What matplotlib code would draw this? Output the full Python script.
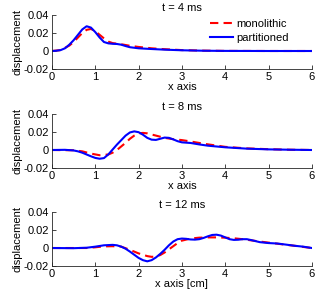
import matplotlib
matplotlib.use('Agg')
import matplotlib.pyplot as plt

plt.rcParams['font.family'] = ['Liberation Sans', 'DejaVu Sans']
plt.rcParams['font.size'] = 8

# t = 4 ms
x1_part = [0, 0.1, 0.2, 0.3, 0.4, 0.5, 0.6, 0.7, 0.8, 0.9, 1.0, 1.1, 1.2, 1.3, 1.4, 1.5, 1.6, 1.7, 1.8, 2.0, 2.3, 2.6, 3.0, 3.5, 4.0, 5.0, 6.0]
y1_part = [0, 0.0003, 0.001, 0.003, 0.007, 0.012, 0.018, 0.024, 0.0275, 0.026, 0.021, 0.015, 0.010, 0.0085, 0.008, 0.0078, 0.007, 0.0055, 0.0042, 0.003, 0.0022, 0.0015, 0.0008, 0.0003, 0.0001, 0, 0]
x1_mono = [0, 0.2, 0.4, 0.5, 0.6, 0.7, 0.8, 0.9, 1.0, 1.1, 1.2, 1.3, 1.4, 1.6, 1.8, 2.0, 2.3, 2.6, 3.0, 3.5, 4.0, 5.0, 6.0]
y1_mono = [0, 0.001, 0.006, 0.010, 0.015, 0.020, 0.0235, 0.0245, 0.022, 0.018, 0.014, 0.0105, 0.0088, 0.0075, 0.0058, 0.0045, 0.003, 0.002, 0.001, 0.0004, 0.0001, 0, 0]

# t = 8 ms
x2_part = [0, 0.3, 0.5, 0.6, 0.7, 0.8, 0.9, 1.0, 1.1, 1.2, 1.3, 1.4, 1.5, 1.6, 1.7, 1.8, 1.9, 2.0, 2.1, 2.2, 2.3, 2.4, 2.5, 2.6, 2.7, 2.8, 2.9, 3.0, 3.2, 3.4, 3.6, 4.0, 4.5, 5.0, 5.5, 6.0]
y2_part = [0, 0.0002, -0.0005, -0.0015, -0.003, -0.005, -0.007, -0.0088, -0.0097, -0.009, -0.005, 0.0005, 0.006, 0.011, 0.016, 0.0195, 0.0207, 0.0198, 0.017, 0.0135, 0.0115, 0.0112, 0.0125, 0.0138, 0.0135, 0.0118, 0.0098, 0.0085, 0.0078, 0.0062, 0.0048, 0.003, 0.0015, 0.0007, 0.0003, 0]
x2_mono = [0, 0.5, 0.7, 0.9, 1.1, 1.3, 1.4, 1.5, 1.6, 1.7, 1.8, 1.9, 2.0, 2.1, 2.2, 2.4, 2.6, 2.8, 3.0, 3.2, 3.5, 4.0, 4.5, 5.0, 5.5, 6.0]
y2_mono = [0, -0.0003, -0.0015, -0.004, -0.0058, -0.005, -0.003, 0, 0.004, 0.008, 0.0125, 0.016, 0.0185, 0.019, 0.0185, 0.016, 0.0135, 0.012, 0.011, 0.0095, 0.007, 0.0035, 0.0018, 0.0009, 0.0003, 0]

# t = 12 ms
x3_part = [0, 0.5, 0.8, 1.0, 1.2, 1.4, 1.5, 1.6, 1.7, 1.8, 1.9, 2.0, 2.1, 2.2, 2.3, 2.4, 2.5, 2.6, 2.7, 2.8, 2.9, 3.0, 3.1, 3.2, 3.3, 3.4, 3.5, 3.6, 3.7, 3.8, 3.9, 4.0, 4.1, 4.2, 4.3, 4.4, 4.5, 4.6, 4.8, 5.0, 5.2, 5.4, 5.6, 5.8, 6.0]
y3_part = [0, -0.0002, 0.0003, 0.0015, 0.003, 0.0035, 0.003, 0.0015, -0.0008, -0.004, -0.0075, -0.011, -0.0135, -0.0148, -0.0135, -0.0105, -0.0065, -0.002, 0.003, 0.0072, 0.0098, 0.0105, 0.0102, 0.0095, 0.0093, 0.0098, 0.0112, 0.013, 0.0145, 0.0148, 0.0138, 0.0118, 0.0098, 0.009, 0.0092, 0.0098, 0.0098, 0.0088, 0.0065, 0.0055, 0.005, 0.0038, 0.0025, 0.0015, 0]
x3_mono = [0, 0.8, 1.0, 1.2, 1.4, 1.6, 1.8, 2.0, 2.2, 2.3, 2.4, 2.5, 2.6, 2.7, 2.8, 2.9, 3.0, 3.2, 3.4, 3.6, 3.8, 4.0, 4.2, 4.4, 4.6, 4.8, 5.0, 5.2, 5.4, 5.6, 5.8, 6.0]
y3_mono = [0, 0, 0.0008, 0.0018, 0.002, 0.0015, -0.002, -0.006, -0.009, -0.0098, -0.0095, -0.0078, -0.005, -0.0015, 0.002, 0.0055, 0.0082, 0.0105, 0.0115, 0.0118, 0.0118, 0.0115, 0.0108, 0.0098, 0.0085, 0.0072, 0.006, 0.0048, 0.0036, 0.0025, 0.0012, 0]

titles = ['t = 4 ms', 't = 8 ms', 't = 12 ms']
xlabels = ['x axis', 'x axis', 'x axis [cm]']
paineis = [(x1_mono, y1_mono, x1_part, y1_part),
           (x2_mono, y2_mono, x2_part, y2_part),
           (x3_mono, y3_mono, x3_part, y3_part)]
bottoms = [0.77, 0.44, 0.1133]

fig = plt.figure(figsize=(3.15, 3.0), dpi=100)

for k in range(3):
    ax = fig.add_axes([0.165, bottoms[k], 0.825, 0.18])
    xm, ym, xp, yp = paineis[k]
    ax.plot(xm, ym, color='red', linestyle='--', linewidth=1.5, dashes=(4, 2.5), label='monolithic')
    ax.plot(xp, yp, color='blue', linewidth=1.5, label='partitioned')

    ax.set_xlim(0, 6)
    ax.set_ylim(-0.02, 0.04)
    ax.set_xticks(range(0, 7))
    ax.set_yticks([-0.02, 0, 0.02, 0.04])
    ax.set_yticklabels(['-0.02', '0', '0.02', '0.04'])

    ax.spines['top'].set_visible(False)
    ax.spines['right'].set_visible(False)
    for s in ['left', 'bottom']:
        ax.spines[s].set_color('#262626')
        ax.spines[s].set_linewidth(0.6)
    ax.tick_params(direction='in', length=3, width=0.6, colors='#262626', labelcolor='black', pad=2)

    ax.set_title(titles[k], fontsize=8, pad=3)
    ax.set_xlabel(xlabels[k], labelpad=0)
    ax.set_ylabel('displacement', labelpad=1)

    if k == 0:
        ax.legend(loc='upper right', frameon=False, fontsize=8, handlelength=2.1,
                  handletextpad=0.25, borderaxespad=0, borderpad=0, labelspacing=0.3,
                  bbox_to_anchor=(0.91, 0.92))

fig.savefig('out.png', dpi=100)
